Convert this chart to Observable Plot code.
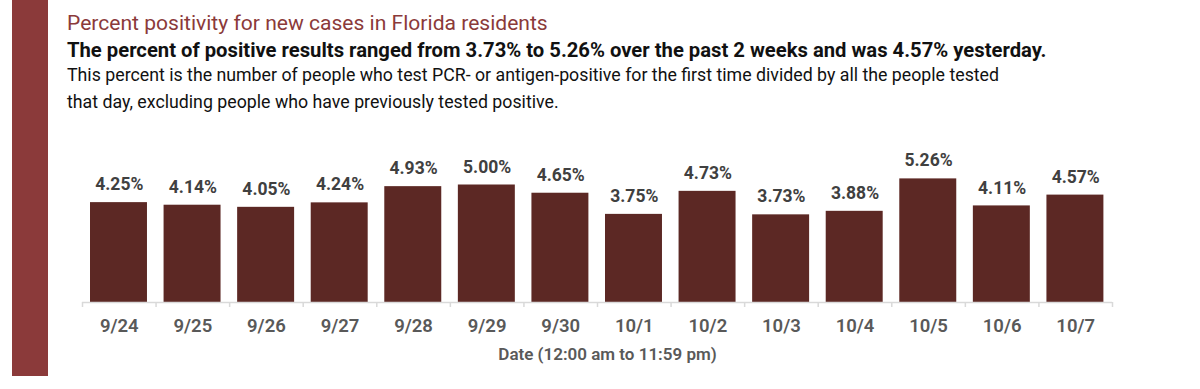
<!DOCTYPE html>
<html>
<head>
<meta charset="utf-8">
<script src="https://cdn.jsdelivr.net/npm/d3@7"></script>
<script src="https://cdn.jsdelivr.net/npm/@observablehq/plot@0.6"></script>
<style>
  html, body { margin: 0; padding: 0; background: #fff; }
  #wrap { position: relative; width: 1200px; height: 389px; overflow: hidden; font-family: Roboto, "Liberation Sans", sans-serif; }
  #sidebar { position: absolute; left: 12px; top: 0; width: 36px; height: 376px; background: #8b3a3a; }
  .ln { position: absolute; left: 67px; white-space: nowrap; line-height: 1; }
  #title { color: #8b3a3a; }
  #sub { font-weight: 700; color: #111; }
  #d1, #d2 { color: #111; }
  #chart { position: absolute; left: 0; top: 0; }
</style>
</head>
<body>
<div id="wrap">
  <div id="chart"></div>
  <div id="sidebar"></div>
  <div class="ln" id="title"></div>
  <div class="ln" id="sub"></div>
  <div class="ln" id="d1"></div>
  <div class="ln" id="d2"></div>
</div>
<script>
const titleText = "Percent positivity for new cases in Florida residents";
const subtitleText = "The percent of positive results ranged from 3.73% to 5.26% over the past 2 weeks and was 4.57% yesterday.";
const descLines = [
  "This percent is the number of people who test PCR- or antigen-positive for the first time divided by all the people tested",
  "that day, excluding people who have previously tested positive."
];
const xAxisLabel = "Date (12:00 am to 11:59 pm)";

const dates = ["9/24","9/25","9/26","9/27","9/28","9/29","9/30","10/1","10/2","10/3","10/4","10/5","10/6","10/7"];
const positivity = [4.25, 4.14, 4.05, 4.24, 4.93, 5.00, 4.65, 3.75, 4.73, 3.73, 3.88, 5.26, 4.11, 4.57];

// header layout: fit each line to the width it has in the reference
function fitLine(id, text, weight, targetWidth, capCenter, sizeFrom) {
  const el = document.getElementById(id);
  el.textContent = text;
  let f;
  if (sizeFrom) {
    f = sizeFrom;
  } else {
    const c = document.createElement("canvas").getContext("2d");
    c.font = `${weight} 100px Roboto`;
    f = 100 * targetWidth / c.measureText(text).width;
  }
  el.style.fontSize = f + "px";
  el.style.top = (capCenter - 0.486 * f) + "px";
  return f;
}
document.fonts.load("400 16px Roboto").then(() => document.fonts.load("700 16px Roboto")).then(() => {
  fitLine("title", titleText, 400, 481, 22);
  fitLine("sub", subtitleText, 700, 980, 49.5);
  const fd = fitLine("d1", descLines[0], 400, 933, 75.5);
  fitLine("d2", descLines[1], 400, 0, 102.5, fd);
});

const data = dates.map((d, i) => ({date: d, value: positivity[i]}));

const W = 1200, H = 389;
const mL = 82, mR = 88, mT = 161, mB = 87;
const step = (W - mL - mR) / dates.length;
const tickLen = 5 / ((H - mT - mB) / 6);

const chart = Plot.plot({
  width: W,
  height: H,
  marginLeft: mL,
  marginRight: mR,
  marginTop: mT,
  marginBottom: mB,
  style: { fontFamily: "Roboto, 'Liberation Sans', sans-serif", background: "transparent" },
  x: { domain: dates, padding: 0, round: false },
  y: { domain: [0, 6], axis: null },
  marks: [
    Plot.barY(data, { x: "date", y: "value", fill: "#5c2824", insetLeft: 8, insetRight: 8.6 }),
    Plot.ruleY([0], { stroke: "#d9d9d9", strokeWidth: 1.5 }),
    Plot.ruleX(dates, { x: d => d, dx: -step / 2, y1: 0, y2: -tickLen, stroke: "#d9d9d9", strokeWidth: 1.5 }),
    Plot.ruleX([dates[dates.length - 1]], { x: d => d, dx: step / 2, y1: 0, y2: -tickLen, stroke: "#d9d9d9", strokeWidth: 1.5 }),
    Plot.text(data, { x: "date", y: "value", text: d => d.value.toFixed(2) + "%", dy: -18, fill: "#404040", fontSize: 17.5, fontWeight: 700 }),
    Plot.axisX({ tickSize: 0, tickPadding: 16, fontSize: 18.5, fontWeight: 600, fill: "#595959", label: null }),
    Plot.text([xAxisLabel], { frameAnchor: "bottom", dy: 57, dx: 10, fill: "#595959", fontSize: 17, fontWeight: 600 })
  ]
});
document.getElementById("chart").appendChild(chart);
</script>
</body>
</html>
